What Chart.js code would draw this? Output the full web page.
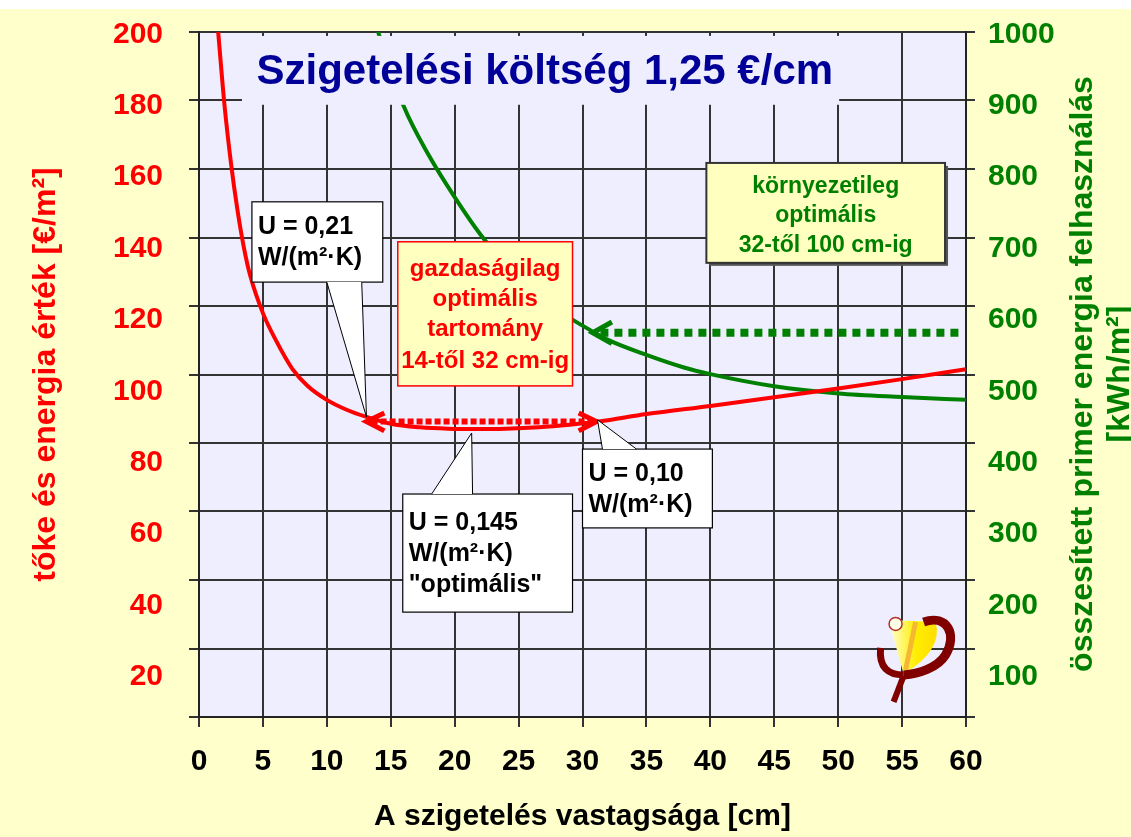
<!DOCTYPE html>
<html><head><meta charset="utf-8">
<script src="https://cdn.jsdelivr.net/npm/chart.js@4/dist/chart.umd.min.js"></script>
<style>html,body{margin:0;padding:0;background:#fff;overflow:hidden}</style>
</head><body>
<canvas id="c" width="1131" height="837"></canvas>
<script>
const FONT = '"Liberation Sans", Arial, sans-serif';

// x: insulation thickness [cm]
const xTicks = [0,5,10,15,20,25,30,35,40,45,50,55,60];
// left axis (€/m²) tick labels and grid
const leftTicks = [20,40,60,80,100,120,140,160,180,200];
const gridTicks = [0,20,40,60,80,100,120,140,160,180,200];
const leftRange = [8.7, 200.7];
// right axis (kWh/m²)
const rightTicks = [100,200,300,400,500,600,700,800,900,1000];
const rightRange = [43.5, 1003.5];

// red: capital + energy value [€/m²]
const costX = [1.5, 2.0, 2.5, 3.0, 3.5, 4.0, 5.0, 6.0, 7.3, 8.5, 10.0, 11.5, 13.1, 15, 17.3, 19.5, 21.6, 24, 26.6, 29, 31.3, 35, 40, 45, 50, 55, 60];
const costY = [200.7, 180.0, 164.0, 151.0, 140.5, 132.5, 121.9, 114.4, 106.3, 101.5, 97.6, 94.9, 92.8, 90.9, 89.9, 89.5, 89.4, 89.5, 89.9, 90.6, 91.5, 93.6, 95.9, 98.3, 100.8, 103.4, 106.2];
// green: total primary energy [kWh/m²]
const energyX = [14, 16, 18, 20, 22, 24, 26, 28, 30, 32, 35, 38, 40, 45, 50, 55, 60];
const energyY = [1004, 900, 830, 772, 720, 678, 642, 614, 592, 572, 551, 533, 524, 507, 497, 492, 488];

// economic optimum range arrow (cm) at cost level
const ecoArrowX = [13.1, 31.1];
const ecoArrowY = 91.5;
// environmental optimum arrow (cm) at energy level
const envArrowX = [30.8, 59.6];
const envArrowY = 582;

const pts = (xs, ys) => xs.map((x, i) => ({x, y: ys[i]}));
const flat = (xs, y) => xs.map(x => ({x, y}));

const RED = '#FF0000', GREEN = '#008000';

const datasets = [
  {data: flat([ecoArrowX[0]+0.4, ecoArrowX[1]-0.4], ecoArrowY), yAxisID:'yL', borderColor:RED, borderWidth:6, borderDash:[6,3]},
  {data: [{x:ecoArrowX[0]+1.4,y:ecoArrowY+2.4},{x:ecoArrowX[0],y:ecoArrowY},{x:ecoArrowX[0]+1.4,y:ecoArrowY-2.6}], yAxisID:'yL', borderColor:RED, borderWidth:5},
  {data: [{x:ecoArrowX[1]-1.4,y:ecoArrowY+2.4},{x:ecoArrowX[1],y:ecoArrowY},{x:ecoArrowX[1]-1.4,y:ecoArrowY-2.6}], yAxisID:'yL', borderColor:RED, borderWidth:5},
  {data: flat([envArrowX[0]+0.6, envArrowX[1]], envArrowY), yAxisID:'yRL', borderColor:GREEN, borderWidth:8, borderDash:[8,6]},
  {data: [{x:envArrowX[0]+1.5,y:envArrowY+15},{x:envArrowX[0],y:envArrowY},{x:envArrowX[0]+1.5,y:envArrowY-15}], yAxisID:'yRL', borderColor:GREEN, borderWidth:5},
  {data: pts(costX, costY), yAxisID:'yL', borderColor:RED, borderWidth:4, cubicInterpolationMode:'monotone'},
  {data: pts(energyX, energyY), yAxisID:'yRL', borderColor:GREEN, borderWidth:4, cubicInterpolationMode:'monotone'},
];

const callouts = [
  {lines:['U = 0,21','W/(m²·K)'], box:[4.14,153.1,14.375,130.6], tip:[13.1,92.8], base:[10.0,12.73], dy:25},
  {lines:['U = 0,145','W/(m²·K)','"optimális"'], box:[15.94,71.2,29.22,38.1], tip:[21.33,88.3], base:[18.2,21.4], dy:29},
  {lines:['U = 0,10','W/(m²·K)'], box:[30.0,83.8,40.16,61.7], tip:[31.17,92.0], base:[31.56,34.22], dy:25},
];
const titleBox = {text:'Szigetelési költség 1,25 €/cm', box:[3.36,199.6,50.08,180.3], cx:27.05};
const ecoBox = {lines:['gazdaságilag','optimális','tartomány','14-től 32 cm-ig'], box:[15.55,141.9,29.22,101.5]};
const envBox = {lines:['környezetileg','optimális','32-től 100 cm-ig'], box:[39.69,164.0,58.36,136.0]};
const logoAt = [55.9, 24.7];

const bgPlugin = {
  id:'bg',
  beforeDraw(chart){
    const {ctx, chartArea:a} = chart;
    ctx.save();
    ctx.fillStyle = '#FFFFCC';
    ctx.fillRect(0,0,chart.width,chart.height);
    ctx.fillStyle = '#FFFFFF';
    ctx.fillRect(0,0,chart.width,9);
    ctx.fillStyle = '#EEEEFF';
    ctx.fillRect(a.left,a.top,a.right-a.left,a.bottom-a.top);
    ctx.restore();
  }
};

const annoPlugin = {
  id:'anno',
  afterDatasetsDraw(chart){
    const {ctx, scales} = chart;
    const X = v => scales.x.getPixelForValue(v);
    const Y = v => scales.yL.getPixelForValue(v);
    ctx.save();
    // title box
    {
      const [x0,y0,x1,y1] = titleBox.box;
      ctx.fillStyle = '#EEEEFF';
      ctx.fillRect(X(x0),Y(y0),X(x1)-X(x0),Y(y1)-Y(y0));
      ctx.fillStyle = '#000099';
      ctx.font = 'bold 42px ' + FONT;
      ctx.textAlign = 'center'; ctx.textBaseline = 'middle';
      ctx.fillText(titleBox.text, X(titleBox.cx), (Y(y0)+Y(y1))/2 + 2);
    }
    // colored boxes
    const colorBox = (b, fill, stroke, sw, shadow, color, size, offs) => {
      const [x0,y0,x1,y1] = b.box;
      const L=X(x0),T=Y(y0),R=X(x1),B=Y(y1);
      if (shadow){ ctx.fillStyle='#555'; ctx.fillRect(L+3,T+3,R-L,B-T); }
      ctx.fillStyle = fill; ctx.fillRect(L,T,R-L,B-T);
      ctx.strokeStyle = stroke; ctx.lineWidth = sw; ctx.strokeRect(L,T,R-L,B-T);
      ctx.fillStyle = color; ctx.font = 'bold '+size+'px '+FONT;
      ctx.textAlign='center'; ctx.textBaseline='middle';
      b.lines.forEach((s,i)=>ctx.fillText(s,(L+R)/2,T+offs[i]));
    };
    colorBox(ecoBox,'#FFFFC0',RED,1.5,false,RED,24,[28,58,88,120]);
    colorBox(envBox,'#FFFFC0','#333',2,true,GREEN,23,[24,53,83]);
    // callouts
    callouts.forEach(c=>{
      const [x0,y0,x1,y1] = c.box;
      const L=X(x0),T=Y(y0),R=X(x1),B=Y(y1);
      const tx=X(c.tip[0]), ty=Y(c.tip[1]);
      const bx0=X(c.base[0]), bx1=X(c.base[1]);
      const edge = ty > B ? B : T;
      ctx.fillStyle='#FFFFFF'; ctx.fillRect(L,T,R-L,B-T);
      ctx.strokeStyle='#000'; ctx.lineWidth=1.2; ctx.strokeRect(L,T,R-L,B-T);
      ctx.beginPath(); ctx.moveTo(bx0,edge); ctx.lineTo(tx,ty); ctx.lineTo(bx1,edge); ctx.closePath();
      ctx.fill();
      ctx.beginPath(); ctx.moveTo(bx0,edge); ctx.lineTo(tx,ty); ctx.lineTo(bx1,edge); ctx.lineWidth=1; ctx.stroke();
      ctx.fillStyle='#000'; ctx.font='bold 25px '+FONT; ctx.textAlign='left'; ctx.textBaseline='middle';
      c.lines.forEach((s,i)=>ctx.fillText(s,L+6,T+c.dy+i*31));
    });
    // logo
    {
      const cx=X(logoAt[0]), cy=Y(logoAt[1]);
      ctx.translate(cx,cy);
      const g = ctx.createLinearGradient(-25,0,20,0);
      g.addColorStop(0,'#FFFFE0'); g.addColorStop(0.6,'#FFEE00'); g.addColorStop(1,'#FFE000');
      ctx.fillStyle = g;
      ctx.beginPath(); ctx.moveTo(-25,-40); ctx.lineTo(22,-38); ctx.quadraticCurveTo(30,-10,-10,14); ctx.closePath(); ctx.fill();
      ctx.strokeStyle='#F5B830'; ctx.lineWidth=5; ctx.beginPath(); ctx.moveTo(2,-38); ctx.lineTo(-8,10); ctx.stroke();
      ctx.strokeStyle='#800000'; ctx.lineWidth=9;
      ctx.beginPath(); ctx.moveTo(10,-38); ctx.bezierCurveTo(34,-46,44,-25,32,-5); ctx.bezierCurveTo(24,8,5,14,-10,15); ctx.stroke();
      ctx.lineWidth=7;
      ctx.beginPath(); ctx.moveTo(-33,-12); ctx.bezierCurveTo(-35,8,-25,15,-10,15); ctx.stroke();
      ctx.lineWidth=6;
      ctx.beginPath(); ctx.moveTo(-10,16); ctx.lineTo(-20,42); ctx.stroke();
      ctx.fillStyle='#FFFFE8'; ctx.strokeStyle='#B03030'; ctx.lineWidth=1.5;
      ctx.beginPath(); ctx.arc(-18,-36,6.5,0,Math.PI*2); ctx.fill(); ctx.stroke();
      ctx.setTransform(1,0,0,1,0,0);
    }
    ctx.restore();
  },
  afterDraw(chart){
    const {ctx} = chart;
    ctx.save();
    ctx.fillStyle = GREEN; ctx.font = 'bold 32px ' + FONT;
    ctx.textAlign='center'; ctx.textBaseline='middle';
    ctx.translate(1083, 374); ctx.rotate(-Math.PI/2);
    ctx.fillText('összesített primer energia felhasználás', 0, 0);
    ctx.fillText('[kWh/m²]', 0, 37);
    ctx.restore();
  }
};

const gridLine = {color:'#333', lineWidth:2, tickLength:10};
const tickFont = {size:30, weight:'bold', family:FONT};
const noPad = s => { s.paddingTop = 0; s.paddingBottom = 0; s.paddingLeft = 0; s.paddingRight = 0; };
const plain = v => String(v);

new Chart(document.getElementById('c'), {
  type:'line',
  data:{datasets},
  plugins:[bgPlugin, annoPlugin],
  options:{
    responsive:false, animation:false, devicePixelRatio:1,
    layout:{padding:{top:32, left:0, right:0, bottom:0}},
    elements:{point:{radius:0}, line:{fill:false, borderCapStyle:'butt'}},
    plugins:{legend:{display:false}, tooltip:{enabled:false}},
    scales:{
      x:{type:'linear', position:'bottom', min:0, max:60,
        afterBuildTicks:s=>{s.ticks = xTicks.map(v=>({value:v}));},
        grid:{...gridLine}, border:{color:'#222', width:2},
        ticks:{color:'#000', font:tickFont, padding:17, maxRotation:0, autoSkip:false, callback:plain},
        title:{display:true, text:'A szigetelés vastagsága [cm]', color:'#000', font:{size:30, weight:'bold', family:FONT}, padding:{top:0,bottom:2}},
        afterFit:s=>{s.height=120; noPad(s);}
      },
      yG:{type:'linear', position:'left', min:0, max:200, weight:0,
        afterBuildTicks:s=>{s.ticks = gridTicks.map(v=>({value:v}));},
        grid:{...gridLine}, border:{color:'#222', width:2},
        ticks:{display:false},
        afterFit:s=>{s.width=10; noPad(s);}
      },
      yL:{type:'linear', position:'left', min:leftRange[0], max:leftRange[1], weight:1,
        afterBuildTicks:s=>{s.ticks = leftTicks.map(v=>({value:v}));},
        grid:{display:false, drawTicks:false}, border:{display:false},
        ticks:{color:RED, font:tickFont, padding:26, autoSkip:false, callback:plain},
        title:{display:true, text:'tőke és energia érték [€/m²]', color:RED, font:{size:32, weight:'bold', family:FONT}, padding:{top:27,bottom:0}},
        afterFit:s=>{s.width=189; noPad(s);}
      },
      yRG:{type:'linear', position:'right', min:0, max:1000, weight:0,
        afterBuildTicks:s=>{s.ticks = gridTicks.map(v=>({value:v*5}));},
        grid:{...gridLine, tickLength:9, drawOnChartArea:false}, border:{color:'#222', width:2},
        ticks:{display:false},
        afterFit:s=>{s.width=9; noPad(s);}
      },
      yRL:{type:'linear', position:'right', min:rightRange[0], max:rightRange[1], weight:1,
        afterBuildTicks:s=>{s.ticks = rightTicks.map(v=>({value:v}));},
        grid:{display:false, drawTicks:false}, border:{display:false},
        ticks:{color:GREEN, font:tickFont, padding:13, autoSkip:false, callback:plain},
        afterFit:s=>{s.width=156; noPad(s);}
      }
    }
  }
});
</script>
</body></html>
